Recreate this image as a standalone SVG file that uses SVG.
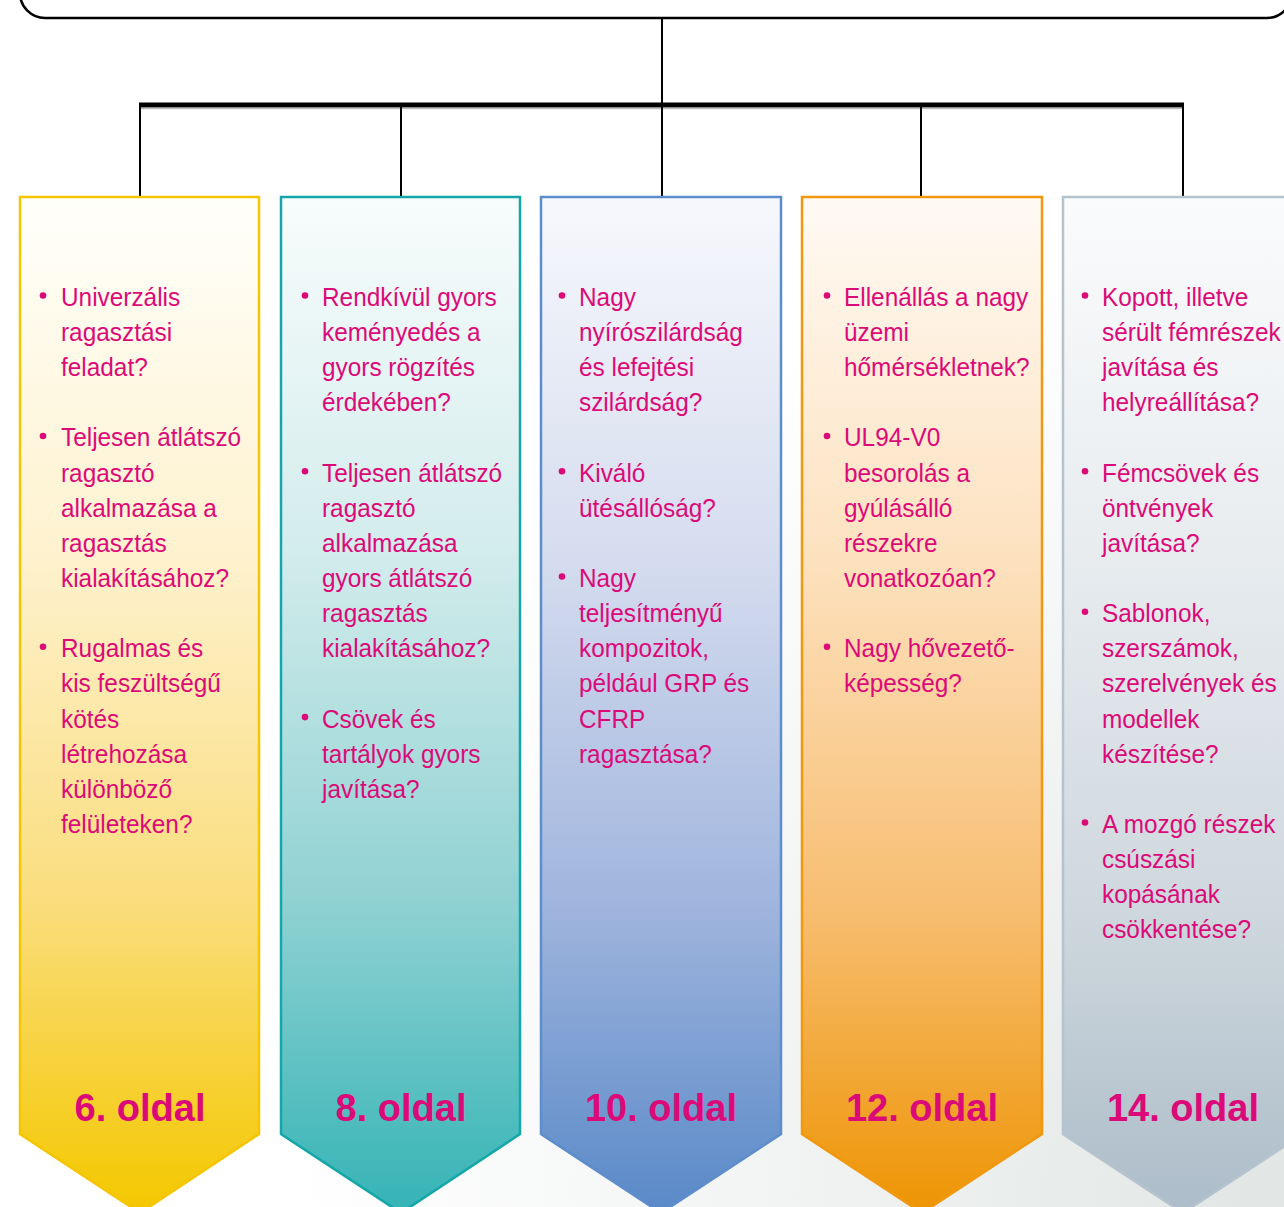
<svg xmlns="http://www.w3.org/2000/svg" width="1284" height="1207" viewBox="0 0 1284 1207">
<defs>
<style>
.t{font-family:"Liberation Sans",Arial,sans-serif;font-size:26.5px;fill:#DC0A78}
.lab{font-family:"Liberation Sans",Arial,sans-serif;font-size:38px;font-weight:bold;fill:#DC0A78;text-anchor:middle}
.b{fill:#DC0A78}
.con{stroke:#000;stroke-width:2;fill:none}
</style>
<radialGradient id="bg" cx="1284" cy="1207" r="1000" gradientUnits="userSpaceOnUse">
<stop offset="0" stop-color="#E1E6E4"/><stop offset="0.55" stop-color="#F3F5F4"/><stop offset="1" stop-color="#FFFFFF"/>
</radialGradient>
<linearGradient id="g1" x1="0" y1="197" x2="0" y2="1207" gradientUnits="userSpaceOnUse">
<stop offset="0" stop-color="#FFFFFB"/><stop offset="0.35" stop-color="#FEF2CF"/><stop offset="0.7" stop-color="#FADD7C"/><stop offset="1" stop-color="#F4C800"/>
</linearGradient>
<linearGradient id="g2" x1="0" y1="197" x2="0" y2="1207" gradientUnits="userSpaceOnUse">
<stop offset="0" stop-color="#F8FCFC"/><stop offset="0.35" stop-color="#D3ECEC"/><stop offset="0.7" stop-color="#8FD1D2"/><stop offset="1" stop-color="#36B4B6"/>
</linearGradient>
<linearGradient id="g3" x1="0" y1="197" x2="0" y2="1207" gradientUnits="userSpaceOnUse">
<stop offset="0" stop-color="#F7F8FC"/><stop offset="0.35" stop-color="#D6DDEF"/><stop offset="0.7" stop-color="#A0B5DD"/><stop offset="1" stop-color="#5A8AC8"/>
</linearGradient>
<linearGradient id="g4" x1="0" y1="197" x2="0" y2="1207" gradientUnits="userSpaceOnUse">
<stop offset="0" stop-color="#FFFAF4"/><stop offset="0.35" stop-color="#FDE2C0"/><stop offset="0.7" stop-color="#F7BE72"/><stop offset="1" stop-color="#EE9505"/>
</linearGradient>
<linearGradient id="g5" x1="0" y1="197" x2="0" y2="1207" gradientUnits="userSpaceOnUse">
<stop offset="0" stop-color="#FAFBFC"/><stop offset="0.35" stop-color="#E8ECEF"/><stop offset="0.7" stop-color="#CFD8DE"/><stop offset="1" stop-color="#ADBDC9"/>
</linearGradient>
</defs>
<rect x="0" y="0" width="1284" height="1207" fill="url(#bg)"/>

<g id="title">
<path d="M20,-40 V-7 A25,25 0 0 0 45,18 H1267 A25,25 0 0 0 1292,-7 V-40" fill="#FFFFFF" stroke="#000" stroke-width="2.5"/>
</g>

<g id="connectors">
<line class="con" x1="662" y1="18" x2="662" y2="105"/>
<line x1="139" y1="105" x2="1184" y2="105" stroke="#000" stroke-width="5"/>
<line x1="139" y1="108.5" x2="1184" y2="108.5" stroke="#BBBBBB" stroke-width="1.5"/>
<line class="con" x1="140" y1="105" x2="140" y2="197"/>
<line class="con" x1="401" y1="105" x2="401" y2="197"/>
<line class="con" x1="662" y1="105" x2="662" y2="197"/>
<line class="con" x1="921" y1="105" x2="921" y2="197"/>
<line class="con" x1="1183" y1="105" x2="1183" y2="197"/>
</g>

<g id="col1">
<path d="M20,197 H259 V1134 L140,1213 L20,1134 Z" fill="url(#g1)" stroke="#F5C500" stroke-width="2.5"/>
<g class="b"><circle cx="43" cy="295.5" r="3.3"/><circle cx="43" cy="436" r="3.3"/><circle cx="43" cy="646.8" r="3.3"/></g>
<g transform="translate(61 0) scale(0.92 1)"><text class="t">
<tspan x="0" y="306">Univerzális</tspan><tspan x="0" y="341.1">ragasztási</tspan><tspan x="0" y="376.3">feladat?</tspan>
<tspan x="0" y="446.5">Teljesen átlátszó</tspan><tspan x="0" y="481.7">ragasztó</tspan><tspan x="0" y="516.8">alkalmazása a</tspan><tspan x="0" y="551.9">ragasztás</tspan><tspan x="0" y="587">kialakításához?</tspan>
<tspan x="0" y="657.3">Rugalmas és</tspan><tspan x="0" y="692.4">kis feszültségű</tspan><tspan x="0" y="727.6">kötés</tspan><tspan x="0" y="762.7">létrehozása</tspan><tspan x="0" y="797.8">különböző</tspan><tspan x="0" y="833">felületeken?</tspan>
</text></g>
<text class="lab" x="140" y="1121">6. oldal</text>
</g>

<g id="col2">
<path d="M281,197 H520 V1134 L401,1213 L281,1134 Z" fill="url(#g2)" stroke="#14A6A8" stroke-width="2.5"/>
<g class="b"><circle cx="305" cy="295.5" r="3.3"/><circle cx="305" cy="471.2" r="3.3"/><circle cx="305" cy="717.1" r="3.3"/></g>
<g transform="translate(322 0) scale(0.92 1)"><text class="t">
<tspan x="0" y="306">Rendkívül gyors</tspan><tspan x="0" y="341.1">keményedés a</tspan><tspan x="0" y="376.3">gyors rögzítés</tspan><tspan x="0" y="411.4">érdekében?</tspan>
<tspan x="0" y="481.7">Teljesen átlátszó</tspan><tspan x="0" y="516.8">ragasztó</tspan><tspan x="0" y="551.9">alkalmazása</tspan><tspan x="0" y="587">gyors átlátszó</tspan><tspan x="0" y="622.2">ragasztás</tspan><tspan x="0" y="657.3">kialakításához?</tspan>
<tspan x="0" y="727.6">Csövek és</tspan><tspan x="0" y="762.7">tartályok gyors</tspan><tspan x="0" y="797.8">javítása?</tspan>
</text></g>
<text class="lab" x="401" y="1121">8. oldal</text>
</g>

<g id="col3">
<path d="M541,197 H781 V1134 L661,1213 L541,1134 Z" fill="url(#g3)" stroke="#5E8DCB" stroke-width="2.5"/>
<g class="b"><circle cx="562" cy="295.5" r="3.3"/><circle cx="562" cy="471.2" r="3.3"/><circle cx="562" cy="576.5" r="3.3"/></g>
<g transform="translate(579 0) scale(0.92 1)"><text class="t">
<tspan x="0" y="306">Nagy</tspan><tspan x="0" y="341.1">nyírószilárdság</tspan><tspan x="0" y="376.3">és lefejtési</tspan><tspan x="0" y="411.4">szilárdság?</tspan>
<tspan x="0" y="481.7">Kiváló</tspan><tspan x="0" y="516.8">ütésállóság?</tspan>
<tspan x="0" y="587">Nagy</tspan><tspan x="0" y="622.2">teljesítményű</tspan><tspan x="0" y="657.3">kompozitok,</tspan><tspan x="0" y="692.4">például GRP és</tspan><tspan x="0" y="727.6">CFRP</tspan><tspan x="0" y="762.7">ragasztása?</tspan>
</text></g>
<text class="lab" x="661" y="1121">10. oldal</text>
</g>

<g id="col4">
<path d="M802,197 H1042 V1134 L922,1213 L802,1134 Z" fill="url(#g4)" stroke="#F0980F" stroke-width="2.5"/>
<g class="b"><circle cx="827" cy="295.5" r="3.3"/><circle cx="827" cy="436" r="3.3"/><circle cx="827" cy="646.8" r="3.3"/></g>
<g transform="translate(844 0) scale(0.92 1)"><text class="t">
<tspan x="0" y="306">Ellenállás a nagy</tspan><tspan x="0" y="341.1">üzemi</tspan><tspan x="0" y="376.3">hőmérsékletnek?</tspan>
<tspan x="0" y="446.5">UL94-V0</tspan><tspan x="0" y="481.7">besorolás a</tspan><tspan x="0" y="516.8">gyúlásálló</tspan><tspan x="0" y="551.9">részekre</tspan><tspan x="0" y="587">vonatkozóan?</tspan>
<tspan x="0" y="657.3">Nagy hővezető-</tspan><tspan x="0" y="692.4">képesség?</tspan>
</text></g>
<text class="lab" x="922" y="1121">12. oldal</text>
</g>

<g id="col5">
<path d="M1063,197 H1303 V1134 L1183,1213 L1063,1134 Z" fill="url(#g5)" stroke="#B4C3CE" stroke-width="2.5"/>
<g class="b"><circle cx="1085" cy="295.5" r="3.3"/><circle cx="1085" cy="471.2" r="3.3"/><circle cx="1085" cy="611.7" r="3.3"/><circle cx="1085" cy="822.5" r="3.3"/></g>
<g transform="translate(1102 0) scale(0.92 1)"><text class="t">
<tspan x="0" y="306">Kopott, illetve</tspan><tspan x="0" y="341.1">sérült fémrészek</tspan><tspan x="0" y="376.3">javítása és</tspan><tspan x="0" y="411.4">helyreállítása?</tspan>
<tspan x="0" y="481.7">Fémcsövek és</tspan><tspan x="0" y="516.8">öntvények</tspan><tspan x="0" y="551.9">javítása?</tspan>
<tspan x="0" y="622.2">Sablonok,</tspan><tspan x="0" y="657.3">szerszámok,</tspan><tspan x="0" y="692.4">szerelvények és</tspan><tspan x="0" y="727.6">modellek</tspan><tspan x="0" y="762.7">készítése?</tspan>
<tspan x="0" y="833">A mozgó részek</tspan><tspan x="0" y="868.1">csúszási</tspan><tspan x="0" y="903.2">kopásának</tspan><tspan x="0" y="938.3">csökkentése?</tspan>
</text></g>
<text class="lab" x="1183" y="1121">14. oldal</text>
</g>
</svg>
